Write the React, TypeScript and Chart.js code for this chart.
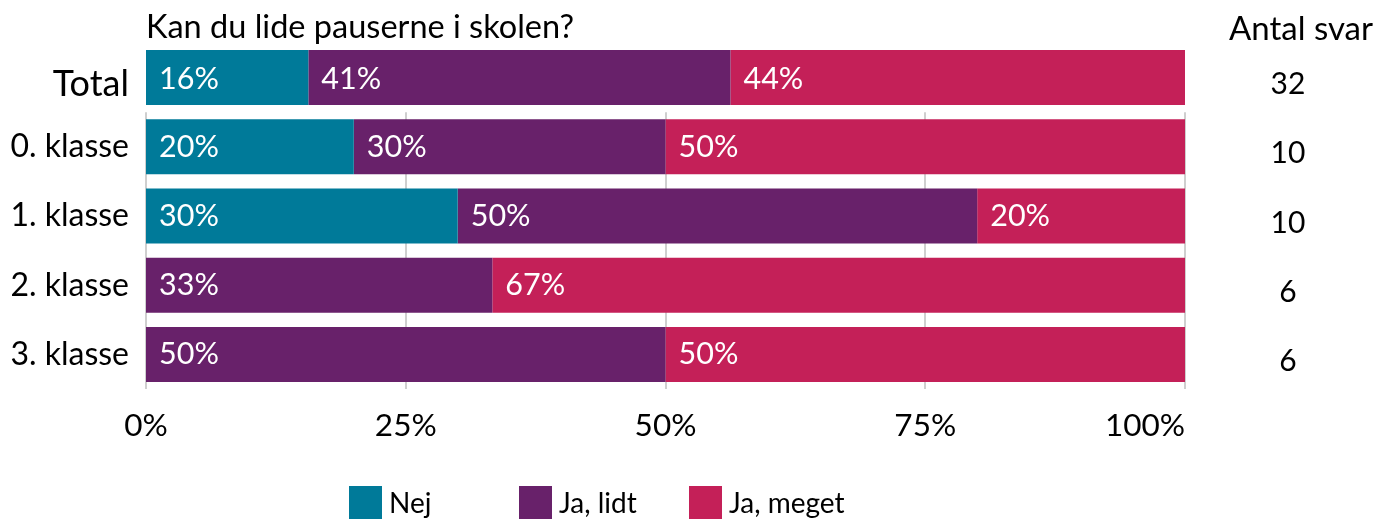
import React, { useEffect, useRef } from "react";
import { Chart, registerables } from "chart.js";

Chart.register(...registerables);

const title = "Kan du lide pauserne i skolen?";
const countHeader = "Antal svar";
const categories = ["Total", "0. klasse", "1. klasse", "2. klasse", "3. klasse"];
const seriesNames = ["Nej", "Ja, lidt", "Ja, meget"];
const nej = [15.625, 20, 30, 0, 0];
const jaLidt = [40.625, 30, 50, 33.333, 50];
const jaMeget = [43.75, 50, 20, 66.667, 50];
const counts = [32, 10, 10, 6, 6];
const xTicks = [0, 25, 50, 75, 100];
const colors = ["#007a99", "#68216a", "#c42058"];

const FONT = "Lato, 'Open Sans', sans-serif";

export default function App() {
  const ref = useRef<HTMLCanvasElement | null>(null);

  useEffect(() => {
    document.body.style.margin = "0";
    const canvas = ref.current;
    if (!canvas) return;

    const gridPlugin = {
      id: "customGrid",
      beforeDatasetsDraw(chart: any) {
        const { ctx, chartArea, scales } = chart;
        const xs = scales.x;
        const ys = scales.y;
        const yStart = (ys.getPixelForValue(0) + ys.getPixelForValue(1)) / 2;
        ctx.save();
        ctx.strokeStyle = "#cfcfcf";
        ctx.lineWidth = 2;
        xTicks.forEach((v) => {
          const x = Math.round(xs.getPixelForValue(v));
          ctx.beginPath();
          ctx.moveTo(x, yStart);
          ctx.lineTo(x, chartArea.bottom);
          ctx.stroke();
        });
        ctx.restore();
      },
    };

    const labelPlugin = {
      id: "customLabels",
      afterDatasetsDraw(chart: any) {
        const { ctx, chartArea, scales } = chart;
        const ys = scales.y;
        const xs = scales.x;
        ctx.save();
        ctx.fillStyle = "#ffffff";
        ctx.textBaseline = "middle";
        ctx.textAlign = "left";
        ctx.font = `30.5px ${FONT}`;
        chart.data.datasets.forEach((ds: any, di: number) => {
          const meta = chart.getDatasetMeta(di);
          meta.data.forEach((el: any, i: number) => {
            const v = ds.data[i];
            if (!v) return;
            const p = el.getProps(["x", "y", "base"], true);
            ctx.fillText(Math.round(v) + "%", Math.min(p.base, p.x) + 13, p.y + (i === 0 ? 2 : 0));
          });
        });
        ctx.restore();

        ctx.save();
        ctx.fillStyle = "#000";
        ctx.textBaseline = "middle";
        // Category labels
        ctx.textAlign = "right";
        categories.forEach((c, i) => {
          ctx.font = `${i === 0 ? 36 : 32}px ${FONT}`;
          ctx.fillText(c, chartArea.left - 17, ys.getPixelForValue(i) + (i === 0 ? 7 : 0));
        });
        // X tick labels (last one right-aligned)
        ctx.font = `31.5px ${FONT}`;
        xTicks.forEach((v, i) => {
          ctx.textAlign = i === xTicks.length - 1 ? "right" : "center";
          ctx.fillText(v + "%", xs.getPixelForValue(v), chartArea.bottom + 37);
        });
        // Title
        ctx.textAlign = "left";
        ctx.font = `32.5px ${FONT}`;
        ctx.fillText(title, chartArea.left, 28);
        // Count column
        ctx.textAlign = "center";
        ctx.font = `33px ${FONT}`;
        ctx.fillText(countHeader, chartArea.right + 116, 29);
        ctx.font = `30px ${FONT}`;
        counts.forEach((c, i) => {
          ctx.fillText(String(c), chartArea.right + 103, ys.getPixelForValue(i) + 7);
        });
        // Legend
        const legendX = [349, 519, 689];
        const boxY = 486;
        const box = 33;
        ctx.font = `28px ${FONT}`;
        seriesNames.forEach((name, i) => {
          ctx.fillStyle = colors[i];
          ctx.fillRect(legendX[i], boxY, box, box);
          ctx.fillStyle = "#000";
          ctx.textAlign = "left";
          ctx.fillText(name, legendX[i] + box + 7, boxY + box / 2 + 1);
        });
        ctx.restore();
      },
    };

    const chart = new Chart(canvas, {
      type: "bar",
      data: {
        labels: categories,
        datasets: [
          { label: seriesNames[0], data: nej, backgroundColor: colors[0] },
          { label: seriesNames[1], data: jaLidt, backgroundColor: colors[1] },
          { label: seriesNames[2], data: jaMeget, backgroundColor: colors[2] },
        ].map((d) => ({ ...d, borderWidth: 0, barPercentage: 1, categoryPercentage: 0.795 })),
      },
      options: {
        indexAxis: "y",
        animation: false,
        responsive: false,
        maintainAspectRatio: false,
        layout: { padding: { top: 43, right: 205, left: 0, bottom: 0 } },
        plugins: {
          legend: { display: false },
          tooltip: { enabled: false },
          title: { display: false },
        },
        scales: {
          x: {
            stacked: true,
            min: 0,
            max: 100,
            grid: { display: false },
            border: { display: false },
            afterFit(scale: any) {
              scale.height = 136;
            },
            afterBuildTicks(scale: any) {
              scale.ticks = xTicks.map((v) => ({ value: v }));
            },
            ticks: { display: false },
          },
          y: {
            stacked: true,
            grid: { display: false },
            border: { display: false },
            afterFit(scale: any) {
              scale.width = 146;
            },
            ticks: { display: false },
          },
        },
      },
      plugins: [gridPlugin, labelPlugin],
    });

    return () => chart.destroy();
  }, []);

  return (
    <div style={{ width: 1390, height: 525 }}>
      <canvas ref={ref} width={1390} height={525} style={{ width: 1390, height: 525 }} />
    </div>
  );
}
